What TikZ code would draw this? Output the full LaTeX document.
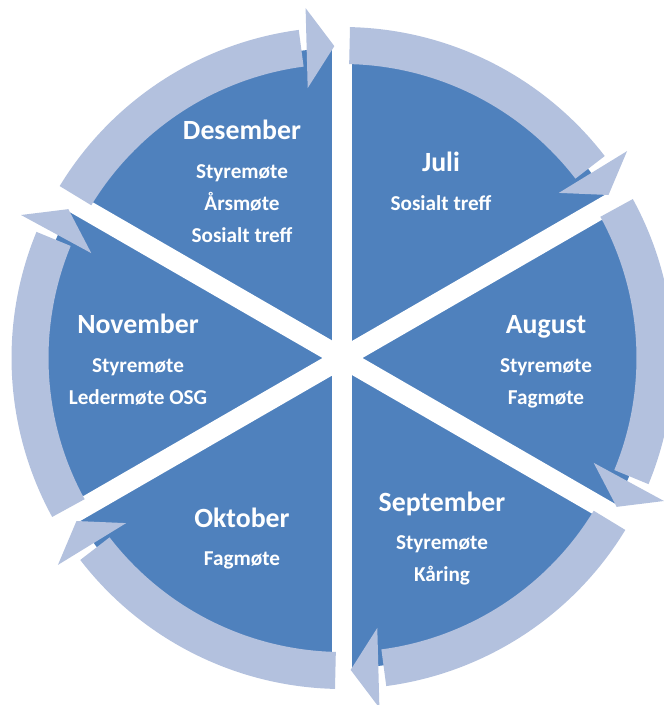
\documentclass[tikz,border=0pt]{standalone}
\usepackage{fontspec}
\newfontfamily\carlito{Carlito}
\usetikzlibrary{calc}
\definecolor{wedgeblue}{RGB}{79,129,189}
\definecolor{bandblue}{RGB}{179,193,222}

\begin{document}
\begin{tikzpicture}[x=1pt,y=1pt]
\tikzset{wedge/.style = {fill=wedgeblue}}
\tikzset{gap/.style = {draw=white,line width=20pt}}
\tikzset{band/.style = {fill=bandblue}}
\tikzset{month/.style = {text=white,anchor=base,inner sep=0pt,font=\carlito\bfseries\fontsize{27.8}{28}\selectfont}}
\tikzset{event/.style = {text=white,anchor=base,inner sep=0pt,font=\carlito\bfseries\fontsize{21.2}{22}\selectfont}}
\path[use as bounding box,clip] (-342.5,-347) rectangle (321.5,358);

% pie with white gaps
\fill[wedge] (0,0) circle[radius=310];
\foreach \a in {30,90,...,330}
  \draw[gap] (0,0) -- (\a:340);

% circular arrows
\foreach \a in {150,90,30,-30,-90,-150} {
  \pgfmathsetmacro\s{\a-1.3}
  \pgfmathsetmacro\b{\a-53.4}
  \pgfmathsetmacro\e{\a-52.4}
  \pgfmathsetmacro\t{\a-58.5}
  \fill[band] (\s:294) arc[start angle=\s,end angle=\e,radius=294]
    -- (\e:331) arc[start angle=\e,end angle=\s,radius=331] -- cycle;
  \fill[band] ($(\b:312)+(\t:40)$) -- (\t:312) -- ($(\b:312)-(\t:40)$) -- cycle;
}

% labels
\node[month] (jul) at (98.5,186.5) {Juli};
\node[event] (jul1) at (98.5,147.2) {Sosialt treff};

\node[month] (aug) at (203.5,24.5) {August};
\node[event] (aug1) at (203.5,-14.8) {Styremøte};
\node[event] (aug2) at (203.5,-46.8) {Fagmøte};

\node[month] (sep) at (99.5,-153.5) {September};
\node[event] (sep1) at (99.5,-191.8) {Styremøte};
\node[event] (sep2) at (99.5,-223.8) {Kåring};

\node[month] (okt) at (-100.5,-169.5) {Oktober};
\node[event] (okt1) at (-100.5,-207.8) {Fagmøte};

\node[month] (nov) at (-204.5,24.5) {November};
\node[event] (nov1) at (-204.5,-14.8) {Styremøte};
\node[event] (nov2) at (-204.5,-46.8) {Ledermøte OSG};

\node[month] (des) at (-100.5,218.5) {Desember};
\node[event] (des1) at (-100.5,179.2) {Styremøte};
\node[event] (des2) at (-100.5,147.2) {Årsmøte};
\node[event] (des3) at (-100.5,115.2) {Sosialt treff};
\end{tikzpicture}
\end{document}
